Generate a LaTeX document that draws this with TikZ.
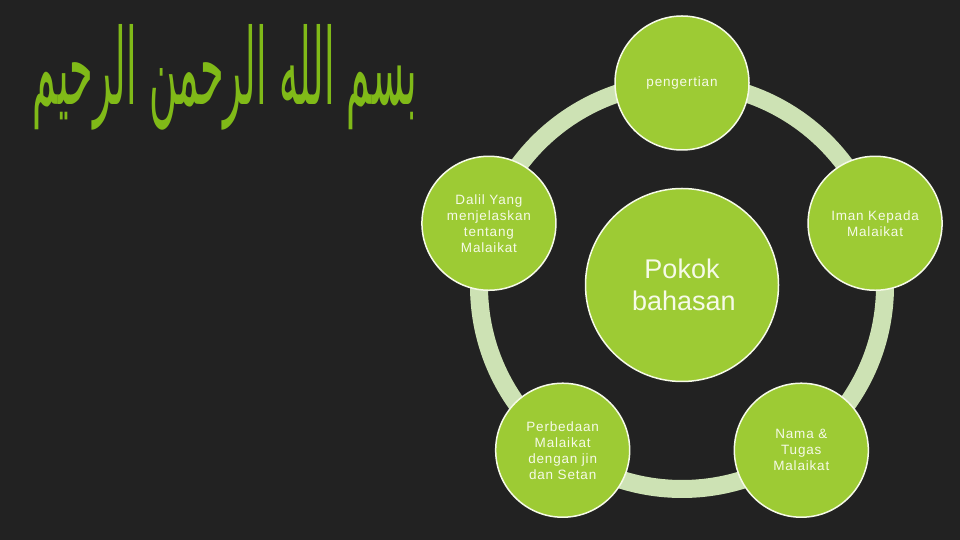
\documentclass[tikz,border=0pt]{standalone}
\usepackage{fontspec}
\usepackage{graphicx}
\setmainfont{Liberation Sans}
\newfontfamily\topicfont[LetterSpace=6]{Liberation Sans}
\newfontfamily\arabicfont[Script=Arabic]{DejaVu Sans}
\TeXXeTstate=1
\usetikzlibrary{calc}

\definecolor{bgdark}{RGB}{34,34,34}
\definecolor{leaf}{RGB}{157,203,52}
\definecolor{ringgreen}{RGB}{205,226,180}
\definecolor{rimwhite}{RGB}{246,250,232}
\definecolor{callig}{RGB}{128,186,24}

\tikzset{
  topic/.style={circle, draw=rimwhite, line width=1.5pt, fill=leaf,
    minimum size=134pt, inner sep=0pt, text=rimwhite, align=center,
    text width=100pt, font=\topicfont\fontsize{13.5}{16}\selectfont},
  hubtopic/.style={topic, minimum size=193pt,
    font=\fontsize{27}{32}\selectfont}
}

\begin{document}
\begin{tikzpicture}[x=1pt,y=1pt]
\fill[bgdark] (0,0) rectangle (960,540);
\useasboundingbox (0,0) rectangle (960,540);

% bismillah
\node[text=callig] (bsm) at (225,463)
  {\resizebox{384pt}{80pt}{\arabicfont\beginR بسم الله الرحمن الرحيم\endR}};

% ring
\coordinate (hub) at (682,254);
\draw[ringgreen, line width=18pt] (hub) circle (203pt);

\node[hubtopic] (pokok) at (682,255) {Pokok\\bahasan};

\node[topic] (peng)  at ($(hub)+(90:203pt)$)   {pengertian};
\node[topic] (iman)  at ($(hub)+(18:203pt)$)   {Iman Kepada\\Malaikat};
\node[topic] (nama)  at ($(hub)+(-54:203pt)$)  {Nama \&\\Tugas\\Malaikat};
\node[topic] (beda)  at ($(hub)+(-126:203pt)$) {Perbedaan\\Malaikat\\dengan jin\\dan Setan};
\node[topic] (dalil) at ($(hub)+(162:203pt)$)  {Dalil Yang\\menjelaskan\\tentang\\Malaikat\\[6pt]};

\end{tikzpicture}
\end{document}
